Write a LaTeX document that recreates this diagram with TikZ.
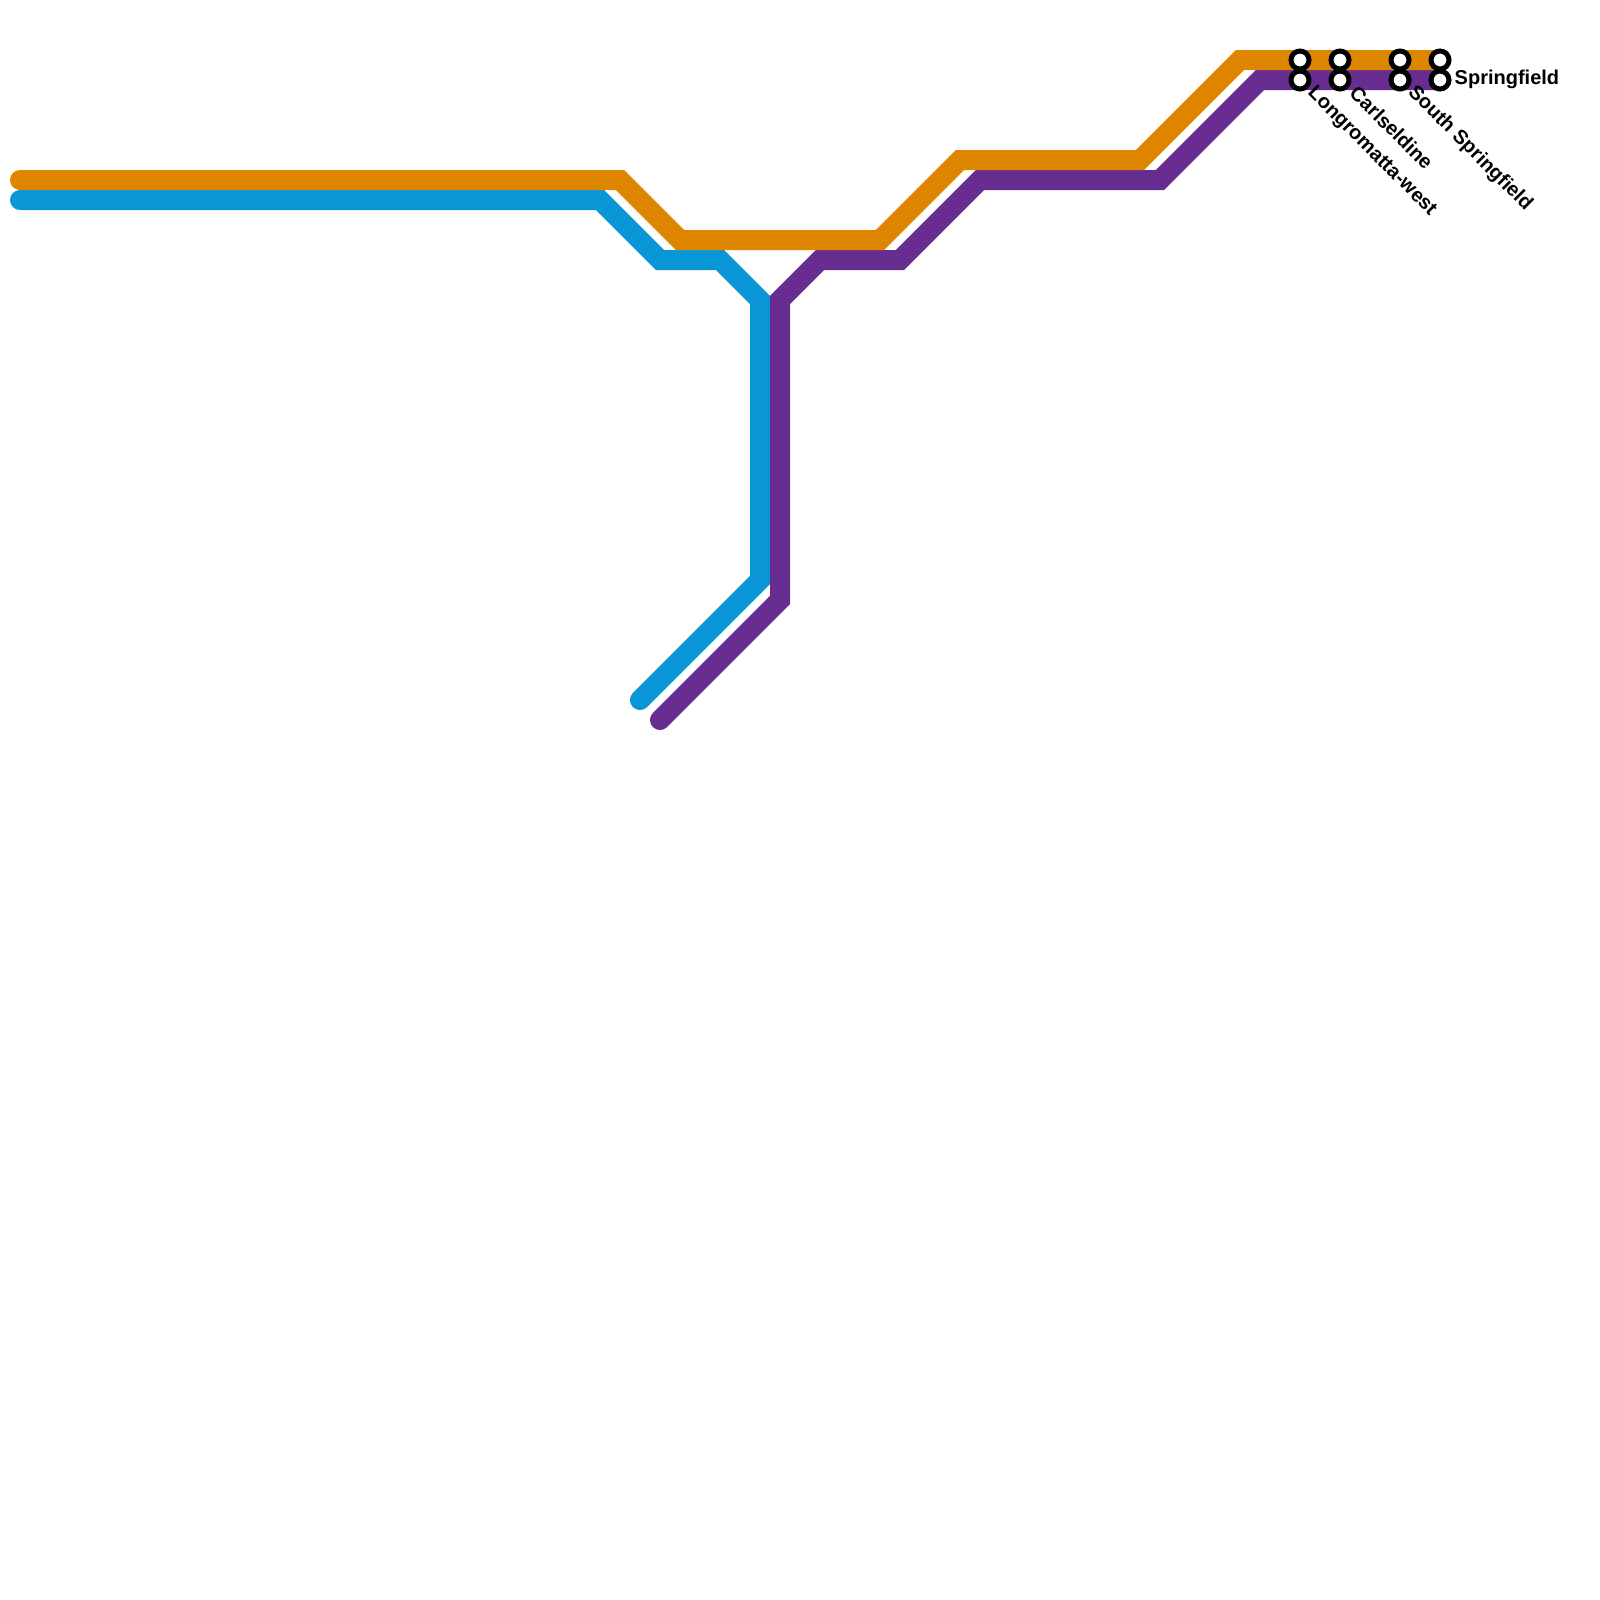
\documentclass[tikz,border=0pt]{standalone}
\usepackage{fontspec}
\setmainfont{Liberation Sans}
\usepackage{tikz}

\definecolor{lineorange}{HTML}{DF8600}
\definecolor{lineblue}{HTML}{0896D7}
\definecolor{linepurple}{HTML}{662C90}

\begin{document}
\begin{tikzpicture}[
  x=0.2cm,y=-0.2cm,
  metroline/.style={line width=0.2cm,line cap=round,line join=miter},
  station/.style={circle,draw=black,fill=white,line width=0.05cm,minimum size=0.18cm,inner sep=0pt,outer sep=0pt},
  stationlabel/.style={font=\fontsize{5.69}{6.8}\selectfont\bfseries,text=black,inner sep=0pt}
]
  \useasboundingbox (0,0) rectangle (80,80);

  \draw[metroline,lineblue] (1,10) -- (30,10) -- (33,13) -- (36,13) -- (38,15) -- (38,29) -- (32,35);
  \draw[metroline,linepurple] (33,36) -- (39,30) -- (39,15) -- (41,13) -- (45,13) -- (49,9) -- (58,9) -- (63,4) -- (72,4);
  \draw[metroline,lineorange] (1,9) -- (31,9) -- (34,12) -- (44,12) -- (48,8) -- (57,8) -- (62,3) -- (72,3);

  \node[station] (LongromattaA) at (65,3) {};
  \node[station] (LongromattaB) at (65,4) {};
  \node[station] (CarlseldineA) at (67,3) {};
  \node[station] (CarlseldineB) at (67,4) {};
  \node[station] (SouthSpringfieldA) at (70,3) {};
  \node[station] (SouthSpringfieldB) at (70,4) {};
  \node[station] (SpringfieldA) at (72,3) {};
  \node[station] (SpringfieldB) at (72,4) {};

  \node[stationlabel,rotate=-45,anchor=west] (LongromattaLabel) at (65.5,4.5) {Longromatta-west};
  \node[stationlabel,rotate=-45,anchor=west] (CarlseldineLabel) at (67.65,4.45) {Carlseldine};
  \node[stationlabel,rotate=-45,anchor=west] (SouthSpringfieldLabel) at (70.53,4.47) {South Springfield};
  \node[stationlabel,anchor=west] (SpringfieldLabel) at (72.7,3.95) {Springfield};
\end{tikzpicture}
\end{document}
